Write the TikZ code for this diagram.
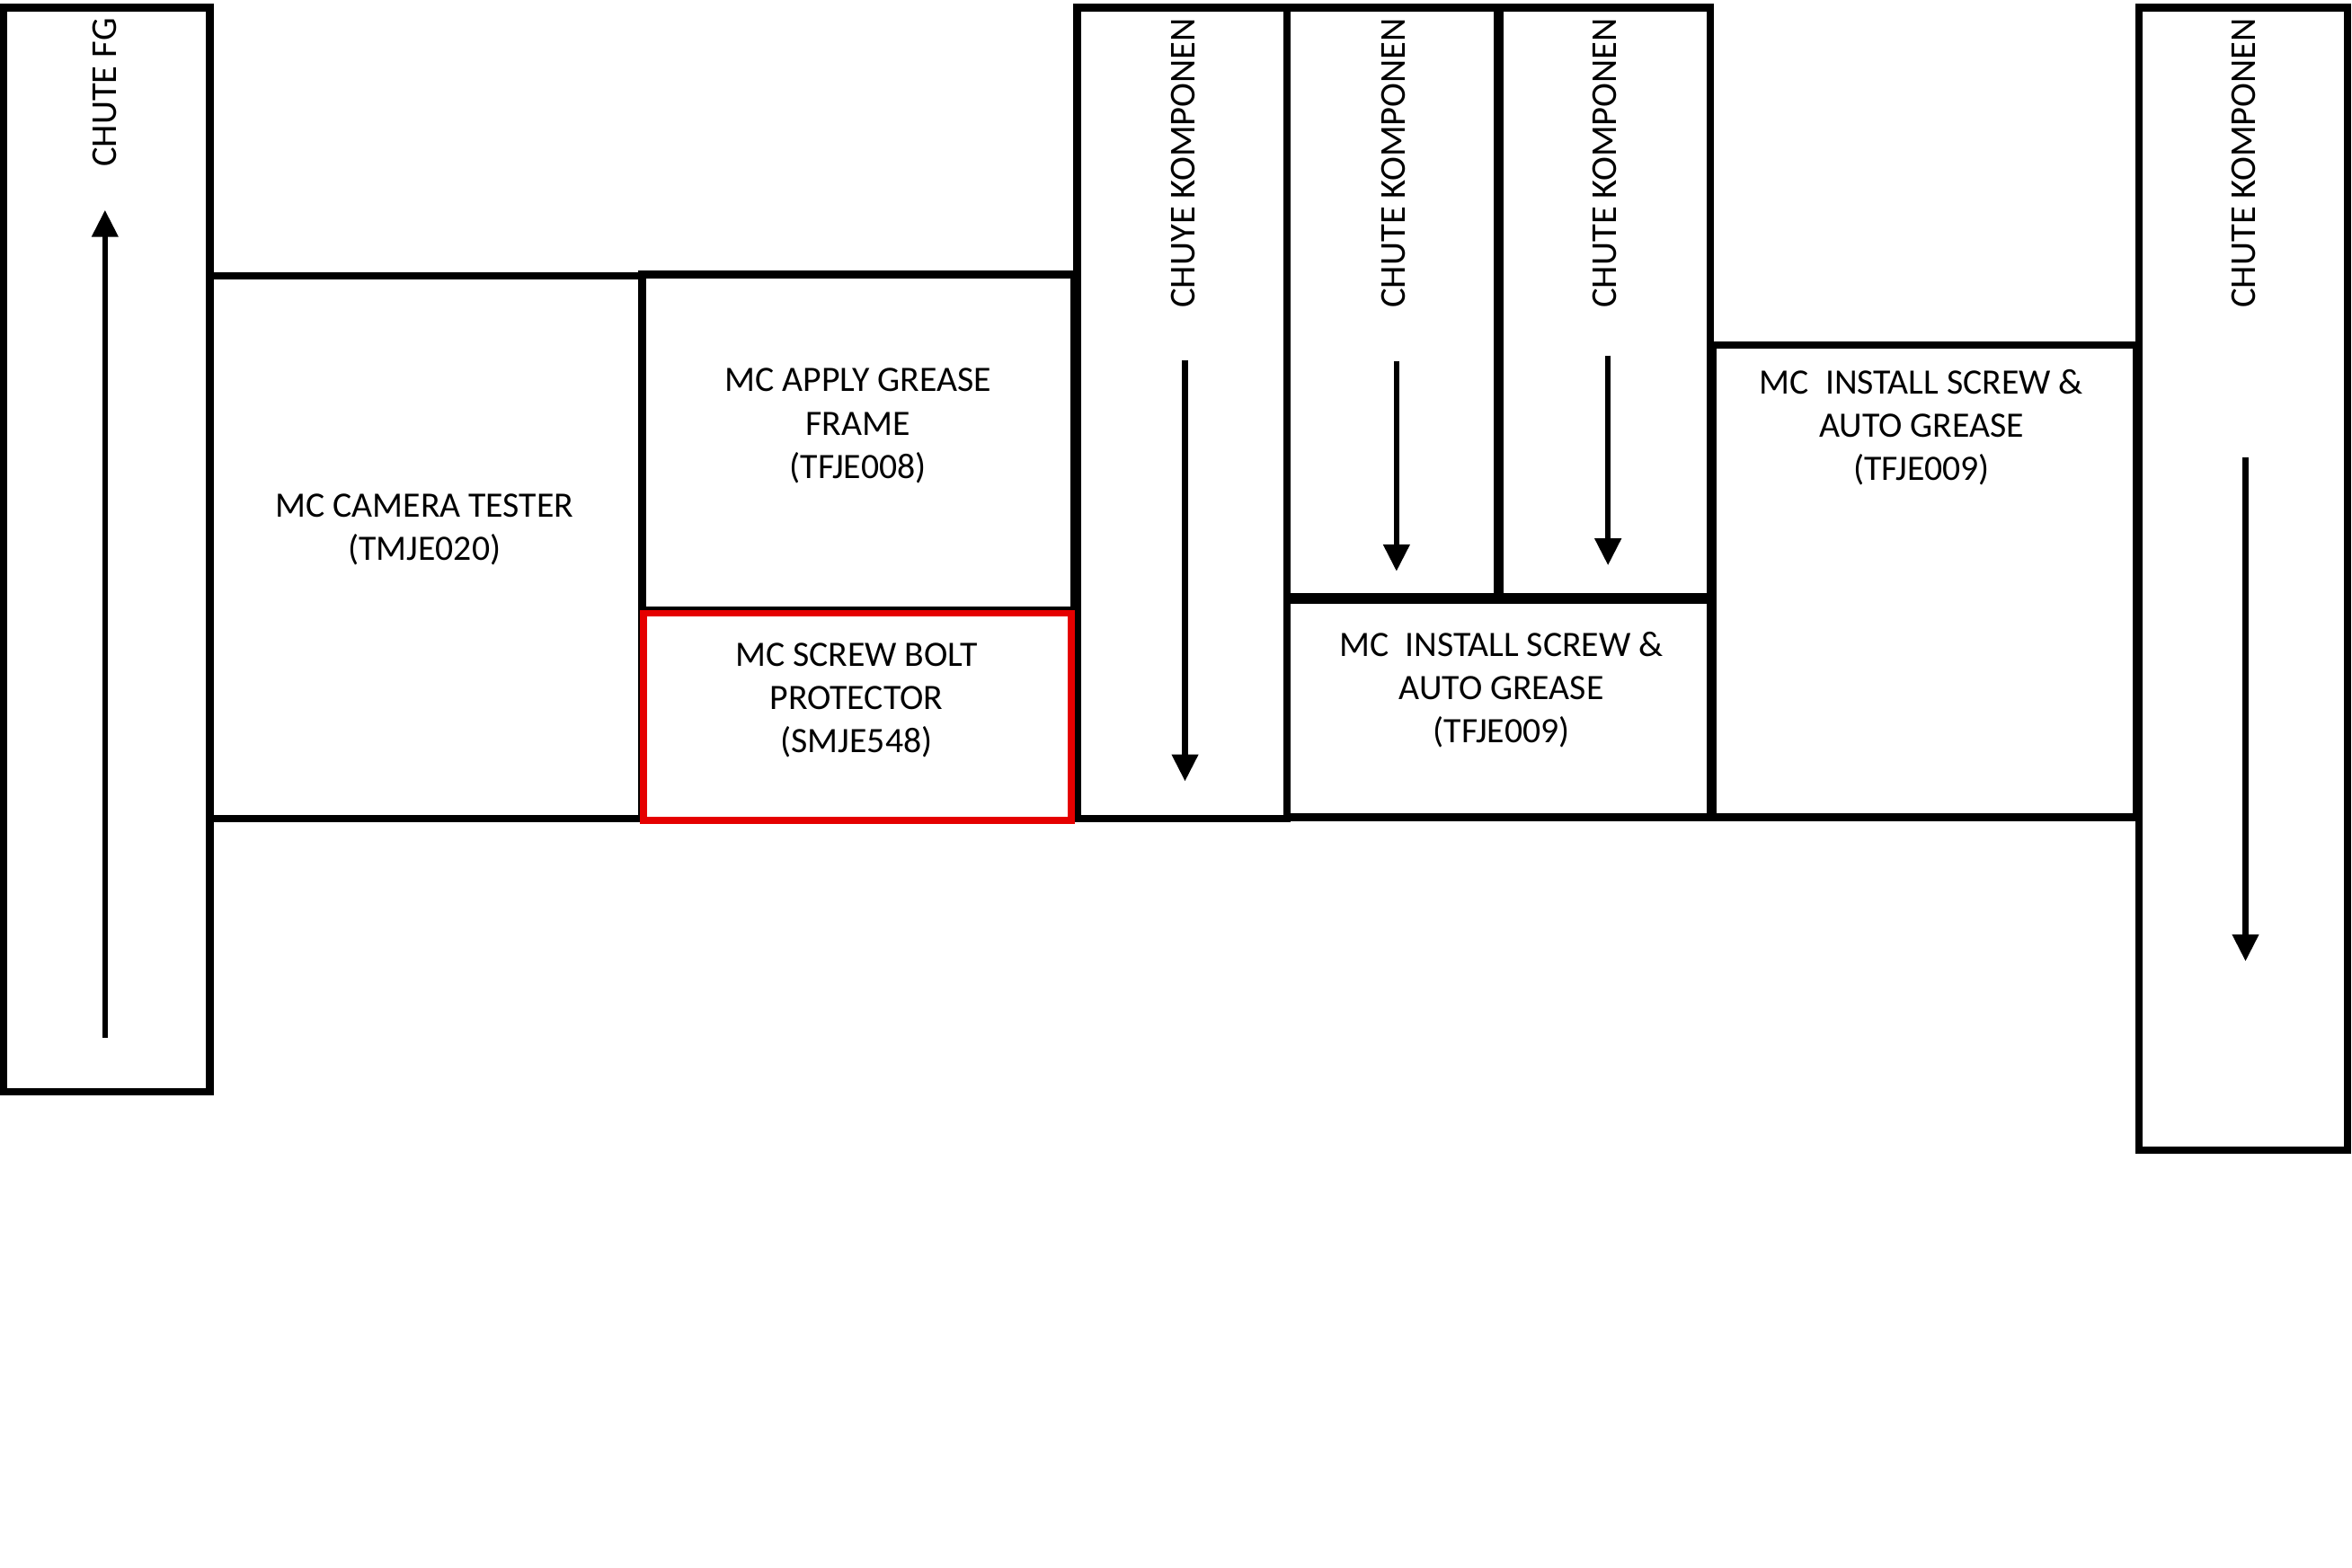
\documentclass[tikz,border=0pt]{standalone}
\usepackage{fontspec}
\setmainfont{Carlito}
\usetikzlibrary{arrows.meta}
\begin{document}
\begin{tikzpicture}[x=1pt,y=-1pt,
  boxline/.style={draw=black,line width=5pt},
  redline/.style={draw=red!90!black,line width=4.6pt},
  lbl/.style={font=\fontsize{23.8}{29}\selectfont,align=center,inner sep=0pt},
  vlbl/.style={font=\fontsize{24.3}{29}\selectfont,rotate=90,anchor=east,inner sep=0pt},
  flow/.style={line width=3.8pt,-{Triangle[length=18pt,width=17pt]}}]
\useasboundingbox (0,0) rectangle (1568,1045.5);
\fill[white] (0,0) rectangle (1568,1045.5);
% boxes
\draw[boxline] (2.5,5) rectangle (140,728);
\draw[boxline] (140,184) rectangle (428,546);
\draw[boxline] (428,183) rectangle (716,407);
\draw[boxline] (718,5) rectangle (858,546);
\draw[boxline] (858,5) rectangle (998,398);
\draw[boxline] (1000,5) rectangle (1140,398);
\draw[boxline] (858,400) rectangle (1140,545);
\draw[boxline] (1142,230) rectangle (1424,545);
\draw[boxline] (1426,5) rectangle (1565,767);
\draw[redline] (429,409) rectangle (714,547);
% labels
\node[vlbl] (tfg) at (70,12) {CHUTE FG};
\node[vlbl] (tk1) at (789,12) {CHUYE KOMPONEN};
\node[vlbl] (tk2) at (929,12) {CHUTE KOMPONEN};
\node[vlbl] (tk3) at (1070,12) {CHUTE KOMPONEN};
\node[vlbl] (tk4) at (1496,12) {CHUTE KOMPONEN};
\node[lbl] (cam) at (283,353) {MC CAMERA TESTER\\(TMJE020)};
\node[lbl] (grease) at (572,284) {MC APPLY GREASE\\FRAME\\(TFJE008)};
\node[lbl] (bolt) at (571,467) {MC SCREW BOLT\\PROTECTOR\\(SMJE548)};
\node[lbl] (inst1) at (1001,460) {MC\ \ INSTALL SCREW \&\\AUTO GREASE\\(TFJE009)};
\node[lbl] (inst2) at (1281,285) {MC\ \ INSTALL SCREW \&\\AUTO GREASE\\(TFJE009)};
% arrows
\coordinate (a1s) at (70,692); \coordinate (a1e) at (70,140);
\coordinate (a2s) at (790,240); \coordinate (a2e) at (790,521);
\coordinate (a3s) at (931,241); \coordinate (a3e) at (931,381);
\coordinate (a4s) at (1072,237); \coordinate (a4e) at (1072,377);
\coordinate (a5s) at (1497,305); \coordinate (a5e) at (1497,641);
\draw[flow] (a1s) -- (a1e);
\draw[flow] (a2s) -- (a2e);
\draw[flow] (a3s) -- (a3e);
\draw[flow] (a4s) -- (a4e);
\draw[flow] (a5s) -- (a5e);
\end{tikzpicture}
\end{document}
